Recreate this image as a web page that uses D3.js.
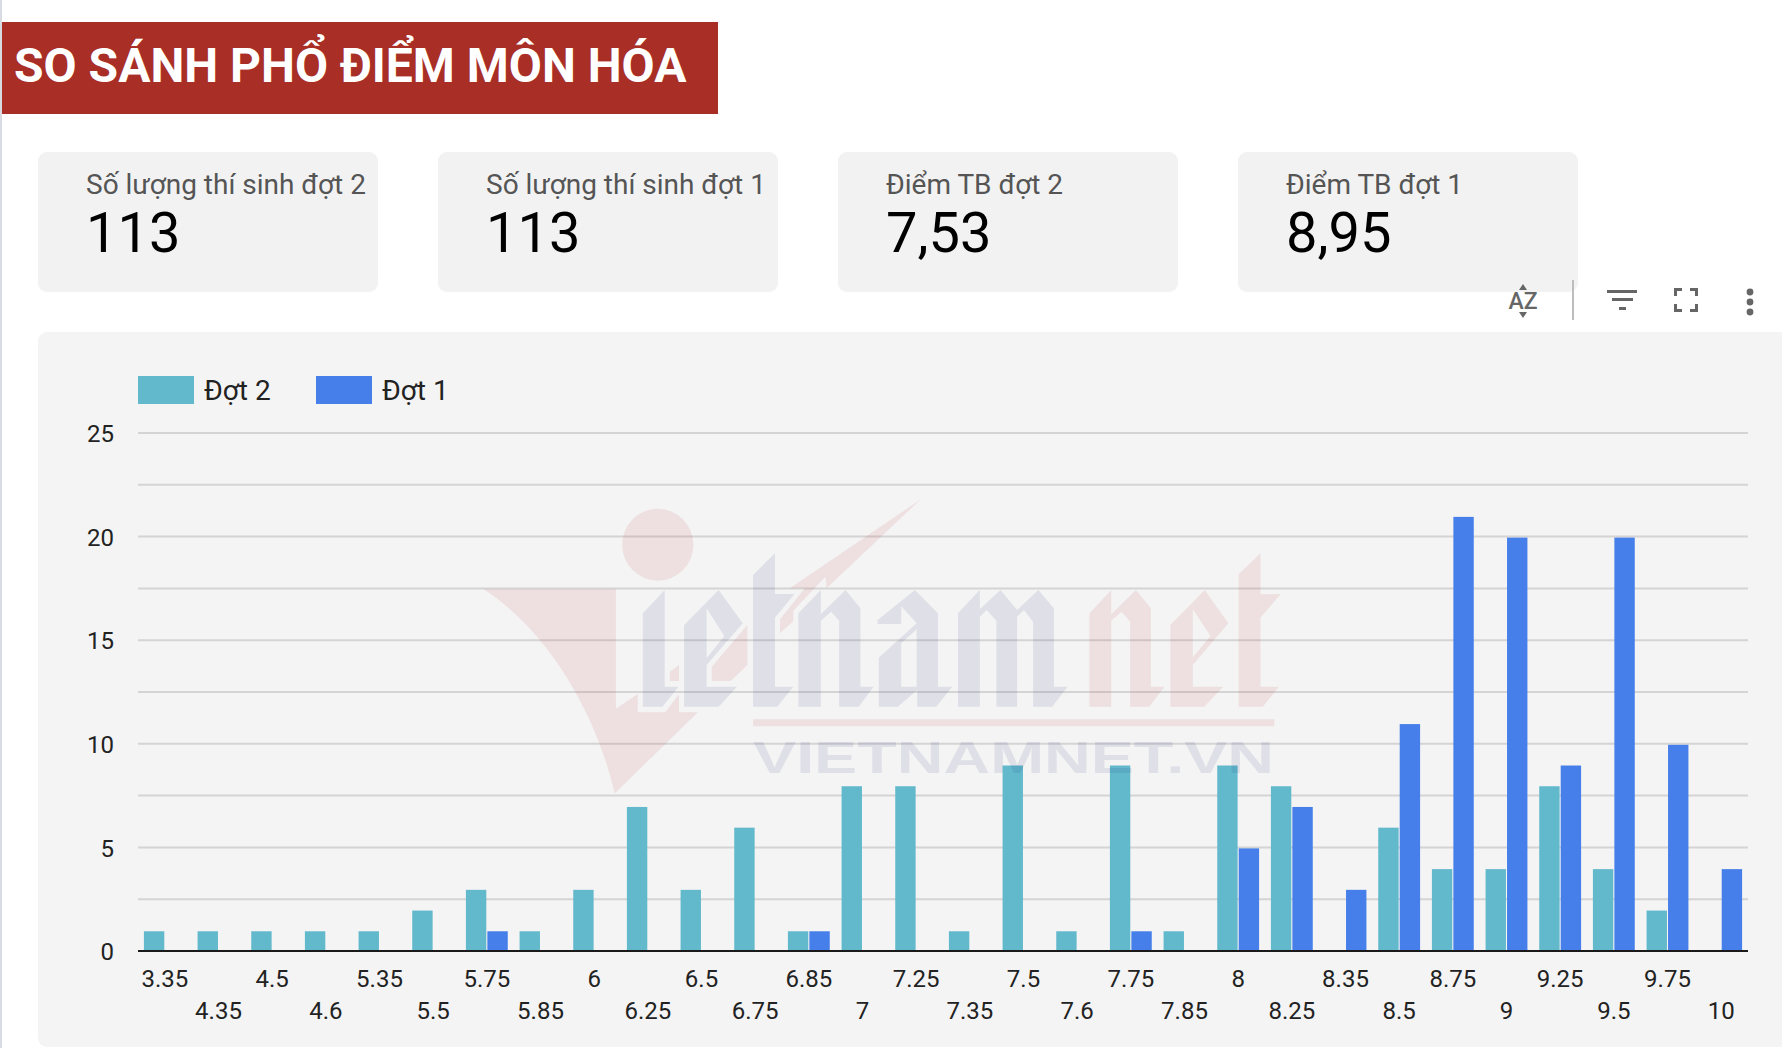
<!DOCTYPE html>
<html><head><meta charset="utf-8">
<script src="https://cdn.jsdelivr.net/npm/d3@7/dist/d3.min.js"></script>
<style>html,body{margin:0;padding:0;background:#fff;overflow:hidden}svg{display:block}text{font-family:Roboto,sans-serif}</style>
</head><body><svg id="c" width="1782" height="1048"></svg>
<script>
const categories=["3.35","4.35","4.5","4.6","5.35","5.5","5.75","5.85","6","6.25","6.5","6.75","6.85","7","7.25","7.35","7.5","7.6","7.75","7.85","8","8.25","8.35","8.5","8.75","9","9.25","9.5","9.75","10"];
const dot2=[1,1,1,1,1,2,3,1,3,7,3,6,1,8,8,1,9,1,9,1,9,8,0,6,4,4,8,4,2,0];
const dot1=[0,0,0,0,0,0,1,0,0,0,0,0,1,0,0,0,0,0,1,0,5,7,3,11,21,20,9,20,10,4];
const seriesNames=["Đợt 2","Đợt 1"];
const seriesColors=["#62b9cc","#467fe9"];
const yLabels=[0,5,10,15,20,25];
const gridValues=[2.5,5,7.5,10,12.5,15,17.5,20,22.5,25];
const cardTitles=["Số lượng thí sinh đợt 2","Số lượng thí sinh đợt 1","Điểm TB đợt 2","Điểm TB đợt 1"];
const cardValues=["113","113","7,53","8,95"];
const titleText="SO SÁNH PHỔ ĐIỂM MÔN HÓA";
const seriesValues=[dot2,dot1];

const svg=d3.select("#c");
svg.append("rect").attr("x",0).attr("y",0).attr("width",2).attr("height",1048).attr("fill","#d9dbe3");
svg.append("rect").attr("x",2).attr("y",22).attr("width",716).attr("height",92).attr("fill","#a82e26");
svg.append("text").attr("x",14).attr("y",82).attr("font-size",48).attr("font-weight",700).attr("fill","#fff").text(titleText);

const cardX=d3.scaleOrdinal().domain(d3.range(4)).range([38,438,838,1238]);
cardTitles.forEach((t,i)=>{
  const g=svg.append("g").attr("transform",`translate(${cardX(i)},152)`);
  g.append("rect").attr("width",340).attr("height",140).attr("rx",9).attr("fill","#f2f2f2");
  g.append("text").attr("x",48).attr("y",42).attr("font-size",28).attr("fill","#555").text(t);
  g.append("text").attr("x",48).attr("y",100).attr("font-size",56).attr("fill","#000").text(cardValues[i]);
});

// toolbar
const tb=svg.append("g").attr("fill","#666");
tb.append("text").attr("x",1523).attr("y",309).attr("text-anchor","middle").attr("font-size",23).attr("font-weight",500).text("AZ");
tb.append("path").attr("d","M1519,290L1527,290L1523,284ZM1519,312L1527,312L1523,318Z");
svg.append("rect").attr("x",1572).attr("y",280).attr("width",2).attr("height",40).attr("fill","#bdbdbd");
tb.append("rect").attr("x",1607).attr("y",290).attr("width",30).attr("height",3);
tb.append("rect").attr("x",1612).attr("y",298).attr("width",21).attr("height",3);
tb.append("rect").attr("x",1619).attr("y",307).attr("width",7).attr("height",3);
tb.append("path").attr("fill","none").attr("stroke","#666").attr("stroke-width",3)
  .attr("d","M1675.5,296V289.5H1682M1690,289.5H1696.5V296M1696.5,304V310.5H1690M1682,310.5H1675.5V304");
[292,302,312].forEach(y=>tb.append("circle").attr("cx",1750).attr("cy",y).attr("r",3.4));

// panel
svg.append("rect").attr("x",38).attr("y",332).attr("width",1780).attr("height",715).attr("rx",9).attr("fill","#f4f4f4");

const x=d3.scaleBand().domain(categories).range([138,1748]).paddingInner(0.22).paddingOuter(0.11);
const inner=d3.scaleBand().domain(seriesNames).range([0,x.bandwidth()]).paddingInner(0.05);
const y=d3.scaleLinear().domain([0,25]).range([951,433]);
const barInset=1;

svg.append("g").selectAll("line").data(gridValues).join("line")
  .attr("x1",138).attr("x2",1748).attr("y1",d=>y(d)).attr("y2",d=>y(d))
  .attr("stroke","#d4d4d4").attr("stroke-width",2);

seriesNames.forEach((s,si)=>{
  svg.append("g").selectAll("rect").data(seriesValues[si]).join("rect")
    .attr("x",(d,i)=>x(categories[i])+inner(s))
    .attr("width",inner.bandwidth())
    .attr("y",d=>y(d)+barInset).attr("height",d=>Math.max(0,y(0)-y(d)-barInset))
    .attr("fill",seriesColors[si]);
});

// y axis
const yAxis=svg.append("g").attr("transform","translate(114,1)")
  .call(d3.axisLeft(y).tickValues(yLabels).tickSize(0).tickPadding(0));
yAxis.select(".domain").remove();
yAxis.selectAll("text").attr("font-size",24).attr("fill","#222").attr("font-family","Roboto,sans-serif");

// x axis
const xAxis=svg.append("g").attr("transform","translate(0,951)")
  .call(d3.axisBottom(x).tickSize(0));
xAxis.select(".domain").remove();
xAxis.selectAll("text").attr("font-size",24).attr("fill","#222").attr("font-family","Roboto,sans-serif")
  .attr("dy",0).attr("y",(d,i)=>i%2?68:36);
svg.append("line").attr("x1",138).attr("x2",1748).attr("y1",951).attr("y2",951).attr("stroke","#1a1a1a").attr("stroke-width",2);

// legend
const legendX=[138,316];
seriesNames.forEach((s,i)=>{
  svg.append("rect").attr("x",legendX[i]).attr("y",376).attr("width",56).attr("height",28).attr("fill",seriesColors[i]);
  svg.append("text").attr("x",legendX[i]+66).attr("y",400).attr("font-size",28).attr("fill","#222").text(s);
});

// watermark
const wmRed="rgba(190,50,50,0.1)", wmBlue="rgba(30,40,120,0.1)";
const wm=svg.append("g").attr("transform","translate(450,480) scale(0.574,0.3333)");
const redPaths=[
"M58,327L289,327L289,686L327,642L327,697L375,697L399,642L399,697L432,697L287,940C255,700 170,450 58,327Z",
"M820,58L592,325L618,325L575,418L575,460L598,424L598,392L654,290L656,325Z",
"M456,560L518,435L518,556L489,603L456,603Z",
"M383,575L399,555L399,603L383,603Z",
"M1114,400L1152,330L1152,403L1195,330L1221,385L1221,620L1245,620L1218,680L1185,680L1185,425L1170,395L1152,422L1152,680L1114,680Z",
"M1255,435L1315,330L1356,430L1294,555L1294,620L1347,620L1314,680L1255,680ZM1294,388L1325,468L1294,532Z",
"M1374,283L1412,220L1412,343L1447,343L1412,413L1412,620L1444,620L1416,680L1374,680Z",
"M528,718H1436V739H528Z"];
const bluePaths=[
"M336,400L374,330L374,620L398,620L370,680L336,680Z",
"M408,435L468,330L510,430L447,555L447,620L500,620L468,680L408,680ZM447,385L478,468L447,535Z",
"M528,285L566,220L566,342L600,342L566,413L566,620L598,620L570,680L528,680Z",
"M607,400L646,330L646,403L689,330L715,385L715,620L738,620L712,680L678,680L678,422L664,395L646,422L646,680L607,680Z",
"M745,420L810,330L850,400L850,620L875,620L847,680L814,680L814,630L780,680L747,680L747,533L813,430L786,378L786,432L745,432ZM786,490L813,448L813,620L786,620Z",
"M885,400L923,330L923,388L959,330L988,390L1025,330L1052,385L1052,620L1076,620L1049,680L1016,680L1016,425L1000,390L988,410L988,680L952,680L952,422L935,390L923,410L923,680L885,680Z"];
wm.append("ellipse").attr("cx",362).attr("cy",194).attr("rx",62).attr("ry",108).attr("fill",wmRed);
wm.selectAll("path.r").data(redPaths).join("path").attr("class","r").attr("d",d=>d).attr("fill",wmRed).attr("fill-rule","evenodd");
wm.selectAll("path.b").data(bluePaths).join("path").attr("class","b").attr("d",d=>d).attr("fill",wmBlue).attr("fill-rule","evenodd");
svg.append("text").attr("x",753).attr("y",773).attr("font-size",44).attr("font-weight",700)
  .attr("textLength",521).attr("lengthAdjust","spacingAndGlyphs")
  .style("font-family","'Liberation Sans',sans-serif").attr("fill",wmBlue).text("VIETNAMNET.VN");
</script></body></html>
